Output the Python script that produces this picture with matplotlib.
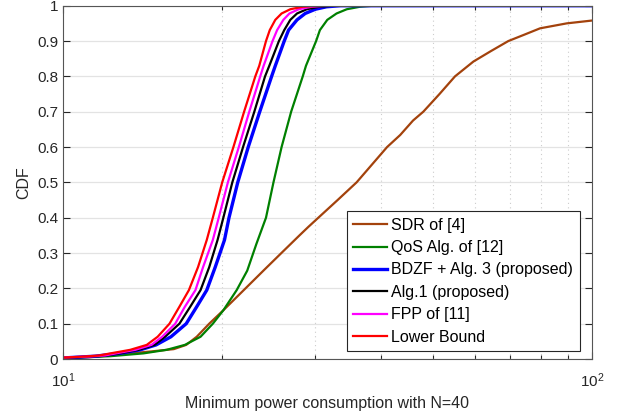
import matplotlib
matplotlib.use("Agg")
import matplotlib.pyplot as plt
from matplotlib.ticker import LogLocator, NullFormatter

plt.rcParams['font.family'] = ['Liberation Sans', 'DejaVu Sans']

# curve data (x = power, y = CDF)
sdr_x = [10, 11.5, 13.2, 14.8, 16.2, 17.1, 17.9, 18.9, 20.1, 22.0, 24.0, 26.0, 28.0, 29.1,
         30.6, 33.0, 35.9, 41.0, 43.4, 45.9, 48, 51.5, 55.1, 59.7, 64.5, 69.5, 74.5,
         79.8, 89.6, 100]
sdr_y = [0.002, 0.006, 0.015, 0.022, 0.028, 0.04, 0.063, 0.1, 0.138, 0.196, 0.252, 0.303,
         0.35, 0.374, 0.404, 0.449, 0.5, 0.6, 0.634, 0.675, 0.7, 0.75, 0.8, 0.842, 0.872,
         0.9, 0.918, 0.936, 0.95, 0.958]

qos_x = [10, 11.0, 12.3, 14.2, 15.7, 17.0, 18.2, 19.2, 20.1, 21.3, 22.3, 23.2, 24.2,
         25.0, 25.9, 27.0, 28.4, 28.8, 30.1, 30.6, 31.6, 32.9, 34.4, 36.4, 38.6, 100]
qos_y = [0.002, 0.005, 0.008, 0.016, 0.026, 0.04, 0.063, 0.1, 0.138, 0.195, 0.25, 0.325,
         0.4, 0.5, 0.6, 0.7, 0.8, 0.83, 0.9, 0.931, 0.96, 0.978, 0.99, 0.997, 1, 1]

bdzf_x = [10, 11.5, 12.8, 14.0, 15.0, 16.0, 17.1, 17.9, 18.7, 19.4, 20.2, 20.6, 21.4,
          22.4, 23.55, 24.8, 25.2, 26.2, 26.7, 27.7, 28.7, 30.0, 31.5, 33.5, 100]
bdzf_y = [0.003, 0.008, 0.016, 0.026, 0.04, 0.063, 0.1, 0.148, 0.195, 0.26, 0.337, 0.4,
          0.5, 0.6, 0.7, 0.8, 0.83, 0.9, 0.931, 0.96, 0.978, 0.99, 0.997, 1, 1]

alg1_x = [10, 11.3, 12.1, 12.8, 13.9, 14.9, 15.6, 16.6, 17.4, 18.2, 18.9, 19.6, 20.1,
          20.9, 21.9, 23.0, 24.1, 24.55, 25.6, 26.2, 26.9, 27.7, 28.9, 30.5, 32.5, 100]
alg1_y = [0.003, 0.007, 0.01, 0.016, 0.026, 0.04, 0.063, 0.1, 0.148, 0.195, 0.26, 0.337,
          0.4, 0.5, 0.6, 0.7, 0.8, 0.83, 0.9, 0.931, 0.96, 0.978, 0.99, 0.997, 1, 1]

fpp_x = [10, 11.2, 12.0, 12.6, 13.7, 14.7, 15.4, 16.3, 17.0, 17.8, 18.4, 19.2, 19.7,
         20.5, 21.5, 22.5, 23.6, 23.95, 24.9, 25.4, 26.1, 26.8, 27.9, 29.5, 31.5, 100]
fpp_y = [0.004, 0.007, 0.01, 0.016, 0.026, 0.04, 0.063, 0.1, 0.148, 0.195, 0.26, 0.337,
         0.4, 0.5, 0.6, 0.7, 0.8, 0.83, 0.9, 0.931, 0.96, 0.978, 0.99, 0.997, 1, 1]

lb_x = [10, 11.0, 11.7, 12.3, 13.4, 14.4, 15.1, 15.9, 16.6, 17.3, 18.0, 18.7, 19.2,
        20.0, 21.0, 22.0, 23.1, 23.5, 24.2, 24.6, 25.2, 25.9, 26.9, 28.4, 30.5, 100]
lb_y = [0.004, 0.007, 0.01, 0.016, 0.026, 0.04, 0.063, 0.1, 0.148, 0.195, 0.26, 0.337,
        0.4, 0.5, 0.6, 0.7, 0.8, 0.83, 0.9, 0.931, 0.96, 0.978, 0.99, 0.997, 1, 1]

y_ticks = [0, 0.1, 0.2, 0.3, 0.4, 0.5, 0.6, 0.7, 0.8, 0.9, 1]
y_labels = ['0', '0.1', '0.2', '0.3', '0.4', '0.5', '0.6', '0.7', '0.8', '0.9', '1']

fig = plt.figure(figsize=(6.23, 4.20), dpi=100)
ax = fig.add_axes([0.1011, 0.1452, 0.849, 0.8412])

ax.plot(sdr_x, sdr_y, color='#a3420c', lw=1.6, label='SDR of [4]')
ax.plot(qos_x, qos_y, color='#008000', lw=1.6, label='QoS Alg. of [12]')
ax.plot(bdzf_x, bdzf_y, color='#0000ff', lw=2.4, label='BDZF + Alg. 3 (proposed)')
ax.plot(alg1_x, alg1_y, color='black', lw=1.6, label='Alg.1 (proposed)')
ax.plot(fpp_x, fpp_y, color='#ff00ff', lw=1.6, label='FPP of [11]')
ax.plot(lb_x, lb_y, color='#ff0000', lw=1.6, label='Lower Bound')

ax.set_xscale('log')
ax.set_xlim(10, 100)
ax.set_ylim(0, 1)
ax.set_yticks(y_ticks)
ax.set_yticklabels(y_labels)
ax.xaxis.set_minor_locator(LogLocator(base=10, subs=range(2, 10)))
ax.xaxis.set_minor_formatter(NullFormatter())

ax.grid(True, which='major', axis='y', color='#e3e3e3', lw=0.9)
ax.grid(True, which='minor', axis='x', color='#cccccc', lw=0.8, ls=(0, (1, 3)))
ax.set_axisbelow(True)

ax.tick_params(which='both', direction='in', top=True, right=True,
               colors='#262626', labelsize=11)
ax.tick_params(which='major', length=5, width=0.8)
ax.tick_params(which='minor', length=3, width=0.8)
ax.tick_params(axis='x', which='major', pad=9)
for s in ax.spines.values():
    s.set_color('#555555')
    s.set_linewidth(0.8)

ax.set_xlabel('Minimum power consumption with N=40', fontsize=11.5, color='#262626',
              labelpad=4)
ax.set_ylabel('CDF', fontsize=11.5, color='#262626')

leg = ax.legend(loc='lower right', bbox_to_anchor=(0.977, 0.023), borderaxespad=0,
                fontsize=11.5, frameon=True, fancybox=False, edgecolor='#262626',
                framealpha=1, labelspacing=0.46, handlelength=2.1, handletextpad=0.3,
                borderpad=0.4)
leg.get_frame().set_linewidth(0.8)

fig.savefig('out.png', dpi=100)
